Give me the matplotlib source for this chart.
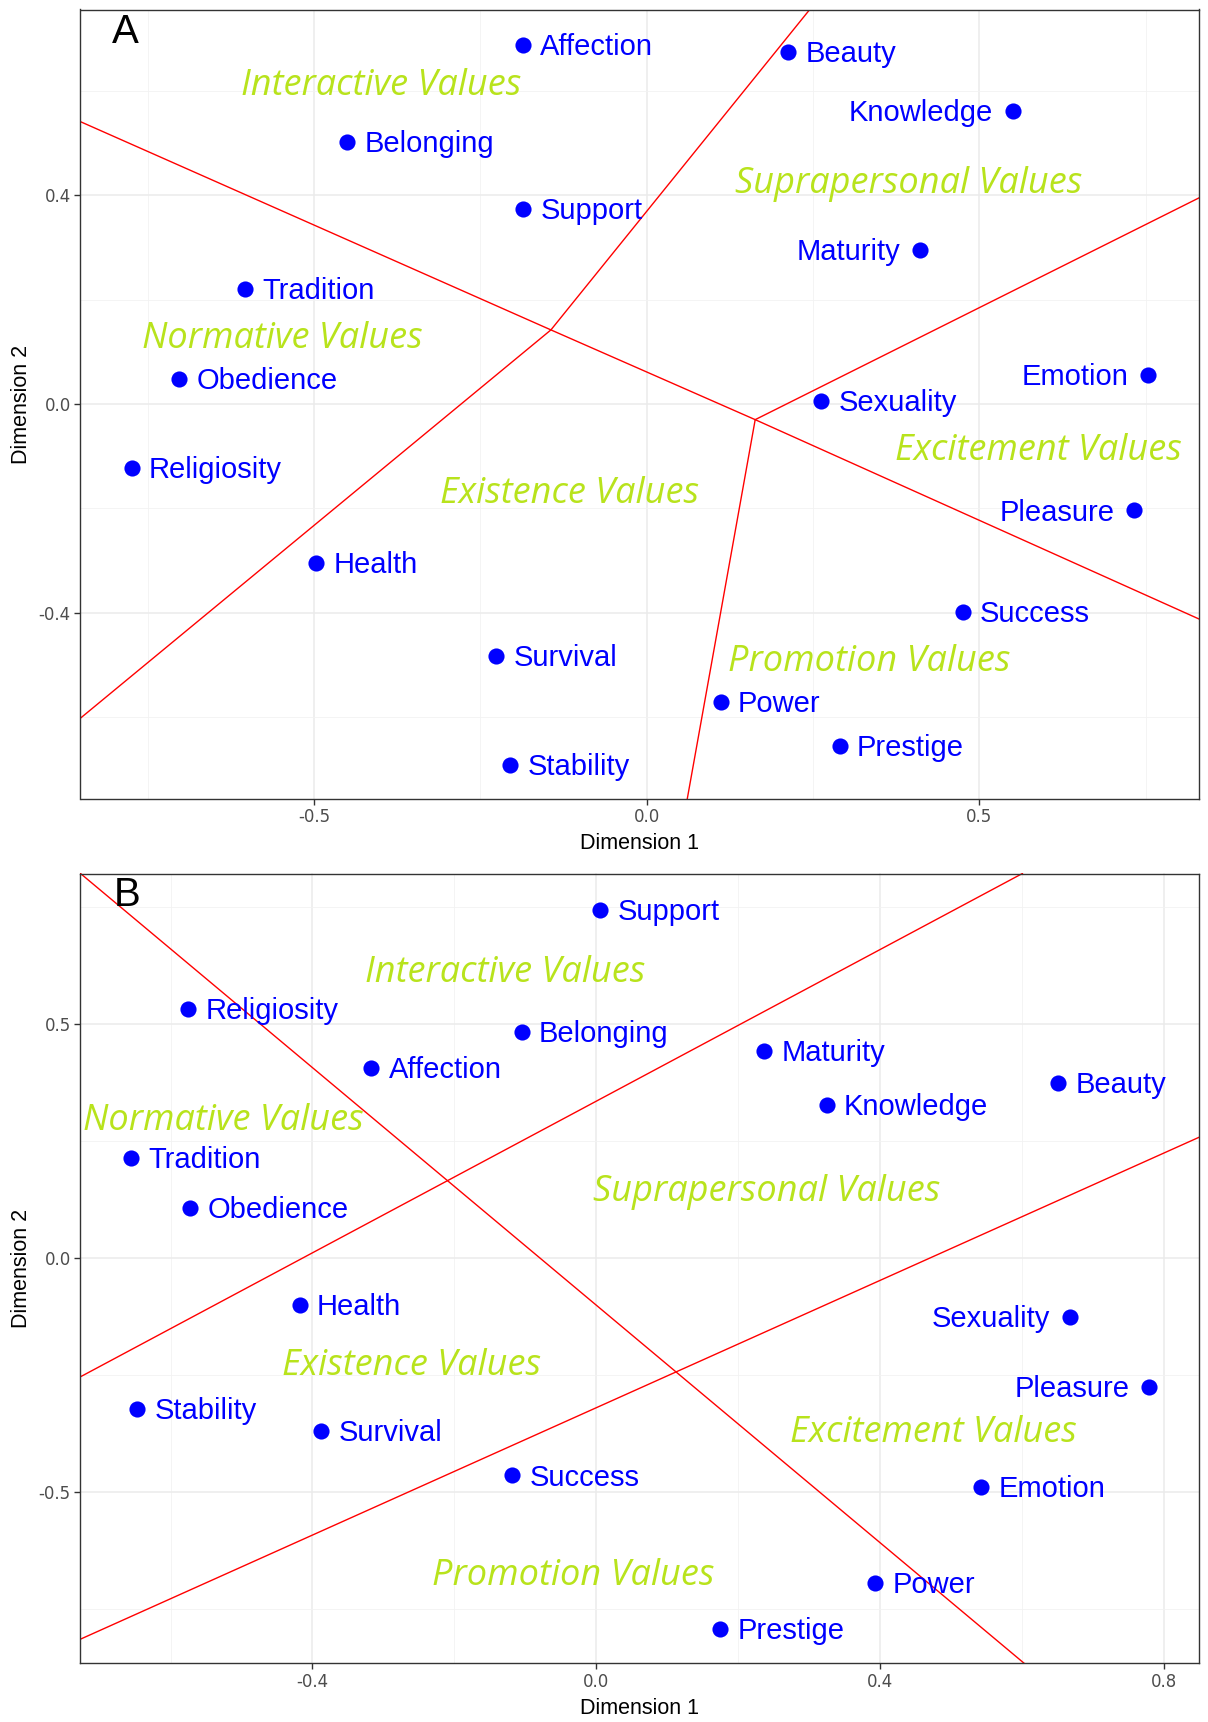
import matplotlib
matplotlib.use("Agg")
import matplotlib.pyplot as plt
from matplotlib.ticker import MultipleLocator

# ---------------- Data ----------------
# Panel A
a_names = ["Affection", "Beauty", "Knowledge", "Belonging", "Support", "Maturity",
           "Tradition", "Obedience", "Emotion", "Sexuality", "Religiosity", "Pleasure",
           "Health", "Success", "Survival", "Power", "Prestige", "Stability"]
a_dim1 = [-0.186, 0.213, 0.550, -0.450, -0.186, 0.411, -0.604, -0.703, 0.754, 0.262,
          -0.774, 0.733, -0.497, 0.475, -0.226, 0.111, 0.290, -0.205]
a_dim2 = [0.688, 0.674, 0.562, 0.503, 0.373, 0.295, 0.221, 0.048, 0.055, 0.006,
          -0.122, -0.204, -0.305, -0.398, -0.482, -0.571, -0.655, -0.691]
a_left_labels = ["Knowledge", "Maturity", "Emotion", "Pleasure"]

a_regions = ["Interactive Values", "Suprapersonal Values", "Normative Values",
             "Existence Values", "Excitement Values", "Promotion Values"]
a_region_x = [-0.399, 0.393, -0.548, -0.116, 0.589, 0.335]
a_region_y = [0.617, 0.429, 0.131, -0.166, -0.084, -0.488]

a_bound_x = [[-0.851, -0.144, 0.163, 0.830],
             [-0.851, -0.144, 0.245],
             [0.163, 0.830],
             [0.163, 0.061]]
a_bound_y = [[0.541, 0.142, -0.030, -0.412],
             [-0.602, 0.142, 0.756],
             [-0.030, 0.395],
             [-0.030, -0.756]]
a_xlim = (-0.851, 0.830)
a_ylim = (-0.756, 0.756)
a_xticks = [-0.5, 0.0, 0.5]
a_yticks = [-0.4, 0.0, 0.4]

# Panel B
b_names = ["Support", "Religiosity", "Belonging", "Affection", "Maturity", "Beauty",
           "Knowledge", "Tradition", "Obedience", "Health", "Sexuality", "Pleasure",
           "Stability", "Survival", "Success", "Emotion", "Power", "Prestige"]
b_dim1 = [0.006, -0.575, -0.105, -0.317, 0.237, 0.651, 0.325, -0.656, -0.572, -0.418,
          0.668, 0.780, -0.647, -0.388, -0.118, 0.543, 0.393, 0.175]
b_dim2 = [0.745, 0.533, 0.484, 0.407, 0.442, 0.374, 0.327, 0.214, 0.106, -0.101,
          -0.127, -0.275, -0.322, -0.369, -0.465, -0.489, -0.695, -0.794]
b_left_labels = ["Sexuality", "Pleasure"]

b_regions = ["Interactive Values", "Normative Values", "Suprapersonal Values",
             "Existence Values", "Excitement Values", "Promotion Values"]
b_region_x = [-0.128, -0.526, 0.241, -0.260, 0.475, -0.032]
b_region_y = [0.616, 0.301, 0.148, -0.223, -0.367, -0.672]

b_bound_x = [[-0.727, 0.603],
             [-0.727, 0.601],
             [-0.727, 0.850]]
b_bound_y = [[0.822, -0.866],
             [-0.254, 0.822],
             [-0.815, 0.258]]
b_xlim = (-0.727, 0.850)
b_ylim = (-0.866, 0.822)
b_xticks = [-0.4, 0.0, 0.4, 0.8]
b_yticks = [-0.5, 0.0, 0.5]

# ---------------- Style ----------------
W, H, DPI = 1208, 1722, 100
fig = plt.figure(figsize=(W / DPI, H / DPI), dpi=DPI)
fig.patch.set_facecolor("white")

POINT_COLOR = "#0000FF"
REGION_COLOR = "#b8e31c"
LABEL_FONT = "Liberation Sans"
REGION_FONT = "Open Sans"


def px_rect(left, top, right, bottom):
    return [left / W, 1 - bottom / H, (right - left) / W, (bottom - top) / H]


def draw_panel(ax, names, d1, d2, left_labels, regions, rx, ry, bx, by,
               xlim, ylim, xticks, yticks, letter, letter_pos):
    ax.set_xlim(*xlim)
    ax.set_ylim(*ylim)
    ax.set_facecolor("white")
    ax.set_xticks(xticks)
    ax.set_yticks(yticks)
    step_x = xticks[1] - xticks[0]
    step_y = yticks[1] - yticks[0]
    ax.xaxis.set_minor_locator(MultipleLocator(step_x / 2))
    ax.yaxis.set_minor_locator(MultipleLocator(step_y / 2))
    ax.grid(which="major", color="#ebebeb", linewidth=1.1, zorder=0)
    ax.grid(which="minor", color="#f2f2f2", linewidth=0.6, zorder=0)
    ax.set_axisbelow(True)
    ax.tick_params(which="minor", length=0)
    ax.tick_params(which="major", length=4, width=1.0, color="#333333",
                   labelsize=12, labelcolor="#4d4d4d", pad=3)
    ax.xaxis.set_major_formatter(matplotlib.ticker.FormatStrFormatter("%.1f"))
    ax.yaxis.set_major_formatter(matplotlib.ticker.FormatStrFormatter("%.1f"))
    for sp in ax.spines.values():
        sp.set_color("#333333")
        sp.set_linewidth(1.0)

    for xs, ys in zip(bx, by):
        ax.plot(xs, ys, color="red", linewidth=1.0, zorder=2, clip_on=True)

    ax.scatter(d1, d2, s=135, color=POINT_COLOR, zorder=4, linewidths=0)
    for n, x, y in zip(names, d1, d2):
        if n in left_labels:
            ax.annotate(n, (x, y), xytext=(-14, -1.5), textcoords="offset points",
                        ha="right", va="center", color=POINT_COLOR,
                        fontsize=21, family=LABEL_FONT, zorder=5)
        else:
            ax.annotate(n, (x, y), xytext=(12.5, -1.5), textcoords="offset points",
                        ha="left", va="center", color=POINT_COLOR,
                        fontsize=21, family=LABEL_FONT, zorder=5)

    for t, x, y in zip(regions, rx, ry):
        ax.annotate(t, (x, y), xytext=(0, -2.5), textcoords="offset points",
                    ha="center", va="center", color=REGION_COLOR,
                    fontsize=26, family=REGION_FONT, style="italic", zorder=3)

    ax.text(letter_pos[0], letter_pos[1], letter, transform=ax.transAxes,
            ha="left", va="baseline", fontsize=29, family=LABEL_FONT,
            color="black", zorder=6)

    ax.set_xlabel("Dimension 1", fontsize=15.5, family=LABEL_FONT, color="black",
                  labelpad=5)
    ax.set_ylabel("Dimension 2", fontsize=15.5, family=LABEL_FONT, color="black",
                  labelpad=5)


axA = fig.add_axes(px_rect(80.5, 9.5, 1199, 798.5))
draw_panel(axA, a_names, a_dim1, a_dim2, a_left_labels, a_regions, a_region_x,
           a_region_y, a_bound_x, a_bound_y, a_xlim, a_ylim, a_xticks, a_yticks,
           "A", (0.028, 0.958))

axB = fig.add_axes(px_rect(80.5, 873.5, 1199, 1663))
draw_panel(axB, b_names, b_dim1, b_dim2, b_left_labels, b_regions, b_region_x,
           b_region_y, b_bound_x, b_bound_y, b_xlim, b_ylim, b_xticks, b_yticks,
           "B", (0.030, 0.959))

fig.savefig("out.png", dpi=DPI, facecolor="white")
